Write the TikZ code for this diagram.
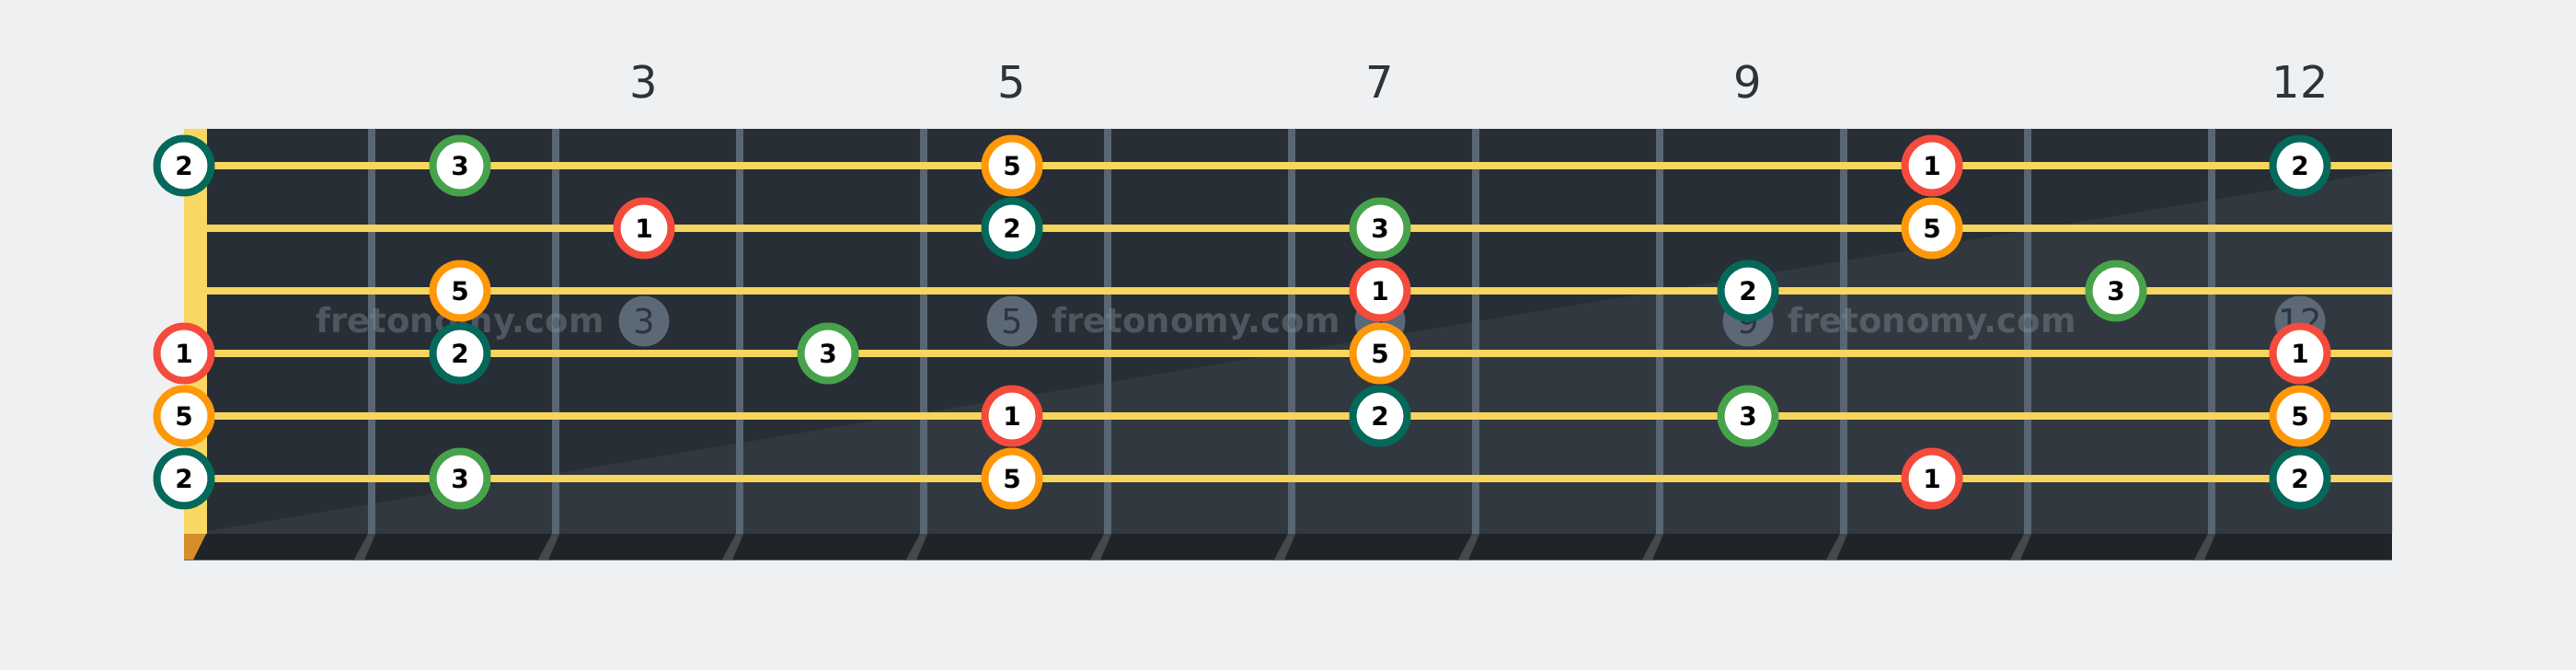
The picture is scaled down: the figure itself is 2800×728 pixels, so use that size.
\documentclass[tikz,border=0pt]{standalone}
\usepackage{fontspec}
\setmainfont{DejaVu Sans}
\usetikzlibrary{positioning}

\definecolor{paper}{HTML}{EEF0F2}
\definecolor{board}{HTML}{282E36}
\definecolor{boardlit}{HTML}{32383F}
\definecolor{boardedge}{HTML}{202328}
\definecolor{wire}{HTML}{5A6674}
\definecolor{wireshade}{HTML}{45494E}
\definecolor{strg}{HTML}{F7D65F}
\definecolor{nut}{HTML}{F8D862}
\definecolor{nutend}{HTML}{D68E2C}
\definecolor{inlay}{HTML}{5B6876}
\definecolor{inlaytext}{HTML}{2E353D}
\definecolor{labeltext}{HTML}{2D3339}
\definecolor{mark}{HTML}{8A949E}
\definecolor{degone}{HTML}{F44B3C}
\definecolor{degtwo}{HTML}{04695A}
\definecolor{degthree}{HTML}{47A34B}
\definecolor{degfive}{HTML}{FF9808}

\begin{document}
\begin{tikzpicture}[x=1pt,y=-1pt,
	note/.style={circle,fill=white,line width=8pt,minimum size=59pt,inner sep=0pt,
		font=\fontsize{28}{28}\selectfont\bfseries},
	deg1/.style={note,draw=degone},
	deg2/.style={note,draw=degtwo},
	deg3/.style={note,draw=degthree},
	deg5/.style={note,draw=degfive},
	dot/.style={circle,fill=inlay,minimum size=55pt,inner sep=0pt,text=inlaytext,
		font=\fontsize{37}{37}\selectfont},
	fretnum/.style={text=labeltext,font=\fontsize{48}{48}\selectfont},
	watermark/.style={text=mark,text opacity=0.4,font=\fontsize{37}{37}\selectfont\bfseries}]

	\useasboundingbox[fill=paper] (0,0) rectangle (2800,728);

	% neck
	\fill[board] (200,140) rectangle (2600,580);
	\fill[boardlit] (225,577) -- (2600,185) -- (2600,580) -- (225,580) -- cycle;
	\fill[boardedge] (200,580) rectangle (2600,608);
	\draw[wire,line width=1pt] (200,608) -- (2600,608);
	\fill[nut] (200,140) rectangle (225,580);
	\fill[nutend] (200,580) -- (224,580) -- (210,608) -- (200,608) -- cycle;
	\foreach \j in {0,...,10} {
		\fill[wire] (400+200*\j,140) rectangle (408+200*\j,580);
		\fill[wireshade] (400+200*\j,580) -- (408+200*\j,580) -- (396+200*\j,608) -- (385+200*\j,608) -- cycle;
	}

	% inlays and fret numbers
	\foreach \f in {3,5,7,9,12} {
		\node[dot] (dot\f) at (100+200*\f,349) {\f};
		\node[fretnum] (num\f) at (100+200*\f,89) {\f};
	}
	\node[watermark] (wm1) at (500,351) {fretonomy.com};
	\node[watermark] (wm2) at (1300,351) {fretonomy.com};
	\node[watermark] (wm3) at (2100,351) {fretonomy.com};

	% strings
	\foreach \s in {1,...,6}
		\fill[strg] (225,176+68*\s-68) rectangle (2600,184+68*\s-68);

	% notes: string/fret/degree
	\foreach \s/\f/\d in {1/0/2,1/2/3,1/5/5,1/10/1,1/12/2,
			2/3/1,2/5/2,2/7/3,2/10/5,
			3/2/5,3/7/1,3/9/2,3/11/3,
			4/0/1,4/2/2,4/4/3,4/7/5,4/12/1,
			5/0/5,5/5/1,5/7/2,5/9/3,5/12/5,
			6/0/2,6/2/3,6/5/5,6/10/1,6/12/2} {
		\pgfmathsetmacro{\xx}{\f==0 ? 200 : 100+200*\f}
		\node[deg\d] (n\s-\f) at (\xx,112+68*\s) {\d};
	}

\end{tikzpicture}
\end{document}
